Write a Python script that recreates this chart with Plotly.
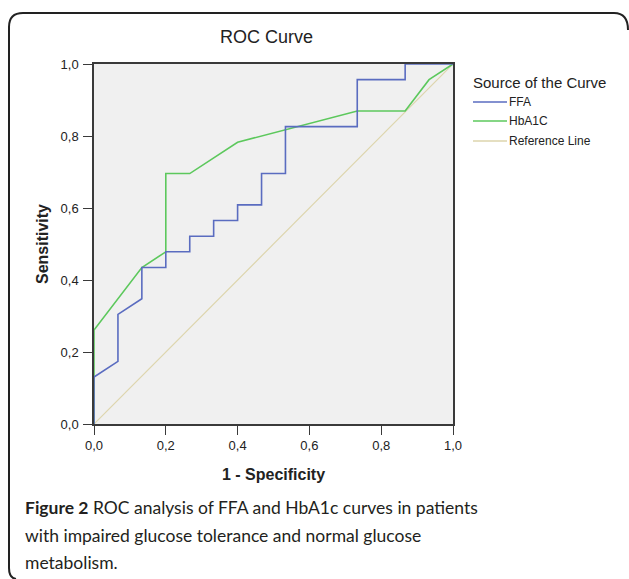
import plotly.graph_objects as go

W, H = 629, 579

# Data (1 - specificity, sensitivity)
ffa_x = [0.0, 0.0, 0.0667, 0.0667, 0.1333, 0.1333, 0.2, 0.2, 0.2667, 0.2667, 0.3333, 0.3333,
         0.4, 0.4, 0.4667, 0.4667, 0.5333, 0.5333, 0.7333, 0.7333, 0.8667, 0.8667, 1.0]
ffa_y = [0.0, 0.1304, 0.1739, 0.3043, 0.3478, 0.4348, 0.4348, 0.4783, 0.4783, 0.5217, 0.5217, 0.5652,
         0.5652, 0.6087, 0.6087, 0.6957, 0.6957, 0.8261, 0.8261, 0.9565, 0.9565, 1.0, 1.0]
hba_x = [0.0, 0.0, 0.1333, 0.2, 0.2, 0.2667, 0.4, 0.7333, 0.8667, 0.9333, 1.0]
hba_y = [0.0, 0.2609, 0.4348, 0.4783, 0.6957, 0.6957, 0.7826, 0.8696, 0.8696, 0.9565, 1.0]
ref_x = [0.0, 1.0]
ref_y = [0.0, 1.0]

tick_vals = [0.0, 0.2, 0.4, 0.6, 0.8, 1.0]
tick_text = ["0,0", "0,2", "0,4", "0,6", "0,8", "1,0"]

legend_title = "Source of the Curve"
series_names = ["FFA", "HbA1C", "Reference Line"]
colors = ["#5a6cc0", "#5cc85c", "#ddd5ad"]

def px(x):
    return x / W

def py(y):
    return 1 - y / H

fig = go.Figure()
fig.add_trace(go.Scatter(x=ref_x, y=ref_y, mode="lines", line=dict(color=colors[2], width=1.2),
                         name=series_names[2], cliponaxis=False))
fig.add_trace(go.Scatter(x=hba_x, y=hba_y, mode="lines", line=dict(color=colors[1], width=1.6),
                         name=series_names[1], cliponaxis=False))
fig.add_trace(go.Scatter(x=ffa_x, y=ffa_y, mode="lines", line=dict(color=colors[0], width=1.6),
                         name=series_names[0], cliponaxis=False))

axis_common = dict(range=[0, 1], tickvals=tick_vals, ticktext=tick_text, ticks="outside",
                   ticklen=9, tickwidth=1.3, tickcolor="#3a3a3a", showline=True, linecolor="#3a3a3a",
                   linewidth=1.5, mirror=True, showgrid=False, zeroline=False, automargin=False,
                   tickfont=dict(family="Liberation Sans, Arial", size=13, color="#222222"),
                   fixedrange=True)

fig.update_layout(
    width=W, height=H,
    margin=dict(l=0, r=0, t=0, b=0),
    paper_bgcolor="white", plot_bgcolor="#f0f0f0",
    showlegend=False,
    xaxis=dict(domain=[px(94), px(453)], **axis_common),
    yaxis=dict(domain=[py(424), py(64)], **axis_common),
)
fig.update_xaxes(title=dict(text="<b>1 - Specificity</b>", font=dict(family="Liberation Sans, Arial", size=16, color="#222"), standoff=16))
fig.update_yaxes(ticklabelstandoff=2,
                 title=dict(text="<b>Sensitivity</b>", font=dict(family="Liberation Sans, Arial", size=16, color="#222"), standoff=8))

ann = []
ann.append(dict(x=px(266), y=py(37), xref="paper", yref="paper", text="ROC Curve", showarrow=False,
                font=dict(family="Liberation Sans, Arial", size=18, color="#222"), xanchor="center", yanchor="middle"))
ann.append(dict(x=px(471), y=py(82), xref="paper", yref="paper", text=legend_title, showarrow=False,
                font=dict(family="Liberation Sans, Arial", size=15, color="#222"), xanchor="left", yanchor="middle"))
legend_ys = [102, 121, 141]
shapes = []
for name, col, ly in zip(series_names, colors, legend_ys):
    shapes.append(dict(type="line", xref="paper", yref="paper", x0=px(473), x1=px(507), y0=py(ly), y1=py(ly),
                       line=dict(color=col, width=1.6)))
    ann.append(dict(x=px(507), y=py(ly), xref="paper", yref="paper", text=name, showarrow=False,
                    font=dict(family="Liberation Sans, Arial", size=12, color="#222"), xanchor="left", yanchor="middle"))

cap_font = dict(family="Lato, Open Sans", size=17.5, color="#231f20")
cap_lines = ["<b>Figure 2</b> ROC analysis of FFA and HbA1c curves in patients",
             "with impaired glucose tolerance and normal glucose",
             "metabolism."]
for t, ly in zip(cap_lines, [507, 535, 562]):
    ann.append(dict(x=px(23), y=py(ly), xref="paper", yref="paper", text=t, showarrow=False,
                    font=cap_font, xanchor="left", yanchor="middle", align="left"))

# rounded frame (top and left visible)
r = 14
path = (f"M {px(628)},{py(30)} Q {px(628)},{py(13)} {px(614)},{py(13)} "
        f"L {px(9 + r)},{py(13)} Q {px(9)},{py(13)} {px(9)},{py(13 + r)} "
        f"L {px(9)},{py(568)} Q {px(9)},{py(578)} {px(16)},{py(579)}")
shapes.append(dict(type="path", xref="paper", yref="paper", path=path, line=dict(color="#222", width=2)))

fig.update_layout(annotations=ann, shapes=shapes)
fig.write_html("out.html", config={"displayModeBar": False},
               post_script="document.body.style.margin='0px';")
